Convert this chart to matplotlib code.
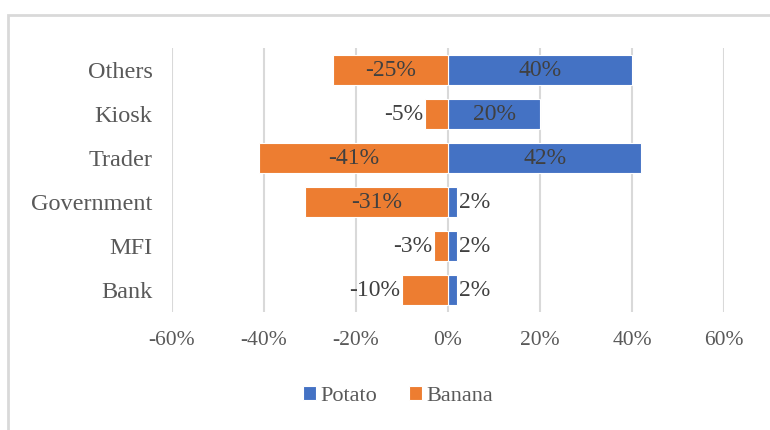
import matplotlib
matplotlib.use("Agg")
import matplotlib.pyplot as plt
from matplotlib.patches import Rectangle
from matplotlib.ticker import FuncFormatter

categories = ["Bank", "MFI", "Government", "Trader", "Kiosk", "Others"]
potato = [2, 2, 2, 42, 20, 40]
banana = [-10, -3, -31, -41, -5, -25]
xticks = [-60, -40, -20, 0, 20, 40, 60]

plt.rcParams['font.family'] = ['Liberation Serif', 'DejaVu Serif']

fig = plt.figure(figsize=(7.7, 4.3), dpi=100)
fig.patches.append(Rectangle((8/770, -0.1), 1.2, 1 - 15/430 + 0.1, transform=fig.transFigure,
                             fill=False, edgecolor='#d9d9d9', linewidth=2))
ax = fig.add_axes([172/770, 1 - 312/430, 552/770, 264/430])

blue = '#4472c4'
orange = '#ed7d31'
txt = '#404040'
lfs = 17
y = list(range(len(categories)))
hb = 0.68
ax.barh(y, potato, height=hb, color=blue, edgecolor='white', linewidth=0.8, label='Potato', zorder=3)
ax.barh(y, banana, height=hb, color=orange, edgecolor='white', linewidth=0.8, label='Banana', zorder=3)

for yi, v in zip(y, potato):
    if abs(v) >= 15:
        ax.text(v / 2, yi, f"{v}%", ha='center', va='center', fontsize=lfs, color=txt, zorder=4)
    else:
        ax.text(v + 0.4, yi, f"{v}%", ha='left', va='center', fontsize=lfs, color=txt, zorder=4)
for yi, v in zip(y, banana):
    if abs(v) >= 15:
        ax.text(v / 2, yi, f"{v}%", ha='center', va='center', fontsize=lfs, color=txt, zorder=4)
    else:
        ax.text(v - 0.4, yi, f"{v}%", ha='right', va='center', fontsize=lfs, color=txt, zorder=4)

ax.set_xlim(-60, 60)
ax.set_ylim(-0.5, len(categories) - 0.5)
ax.set_xticks(xticks)
ax.xaxis.set_major_formatter(FuncFormatter(lambda v, p: f"{int(v)}%"))
ax.set_yticks(y)
ax.set_yticklabels(categories)
ax.tick_params(axis='both', length=0, labelcolor='#595959')
ax.tick_params(axis='x', labelsize=15.5, pad=14)
ax.tick_params(axis='y', labelsize=17.5, pad=14)
ax.grid(axis='x', color='#d9d9d9', linewidth=1.5, zorder=0)
for s in ax.spines.values():
    s.set_visible(False)

h, l = ax.get_legend_handles_labels()
fig.legend(h, l, loc='center', bbox_to_anchor=(398/770, 1 - 396/430), ncol=2, frameon=False,
           fontsize=16, handlelength=0.6, handleheight=0.6, handletextpad=0.2, columnspacing=1.4,
           labelcolor='#595959')

fig.savefig("out.png", dpi=100)
